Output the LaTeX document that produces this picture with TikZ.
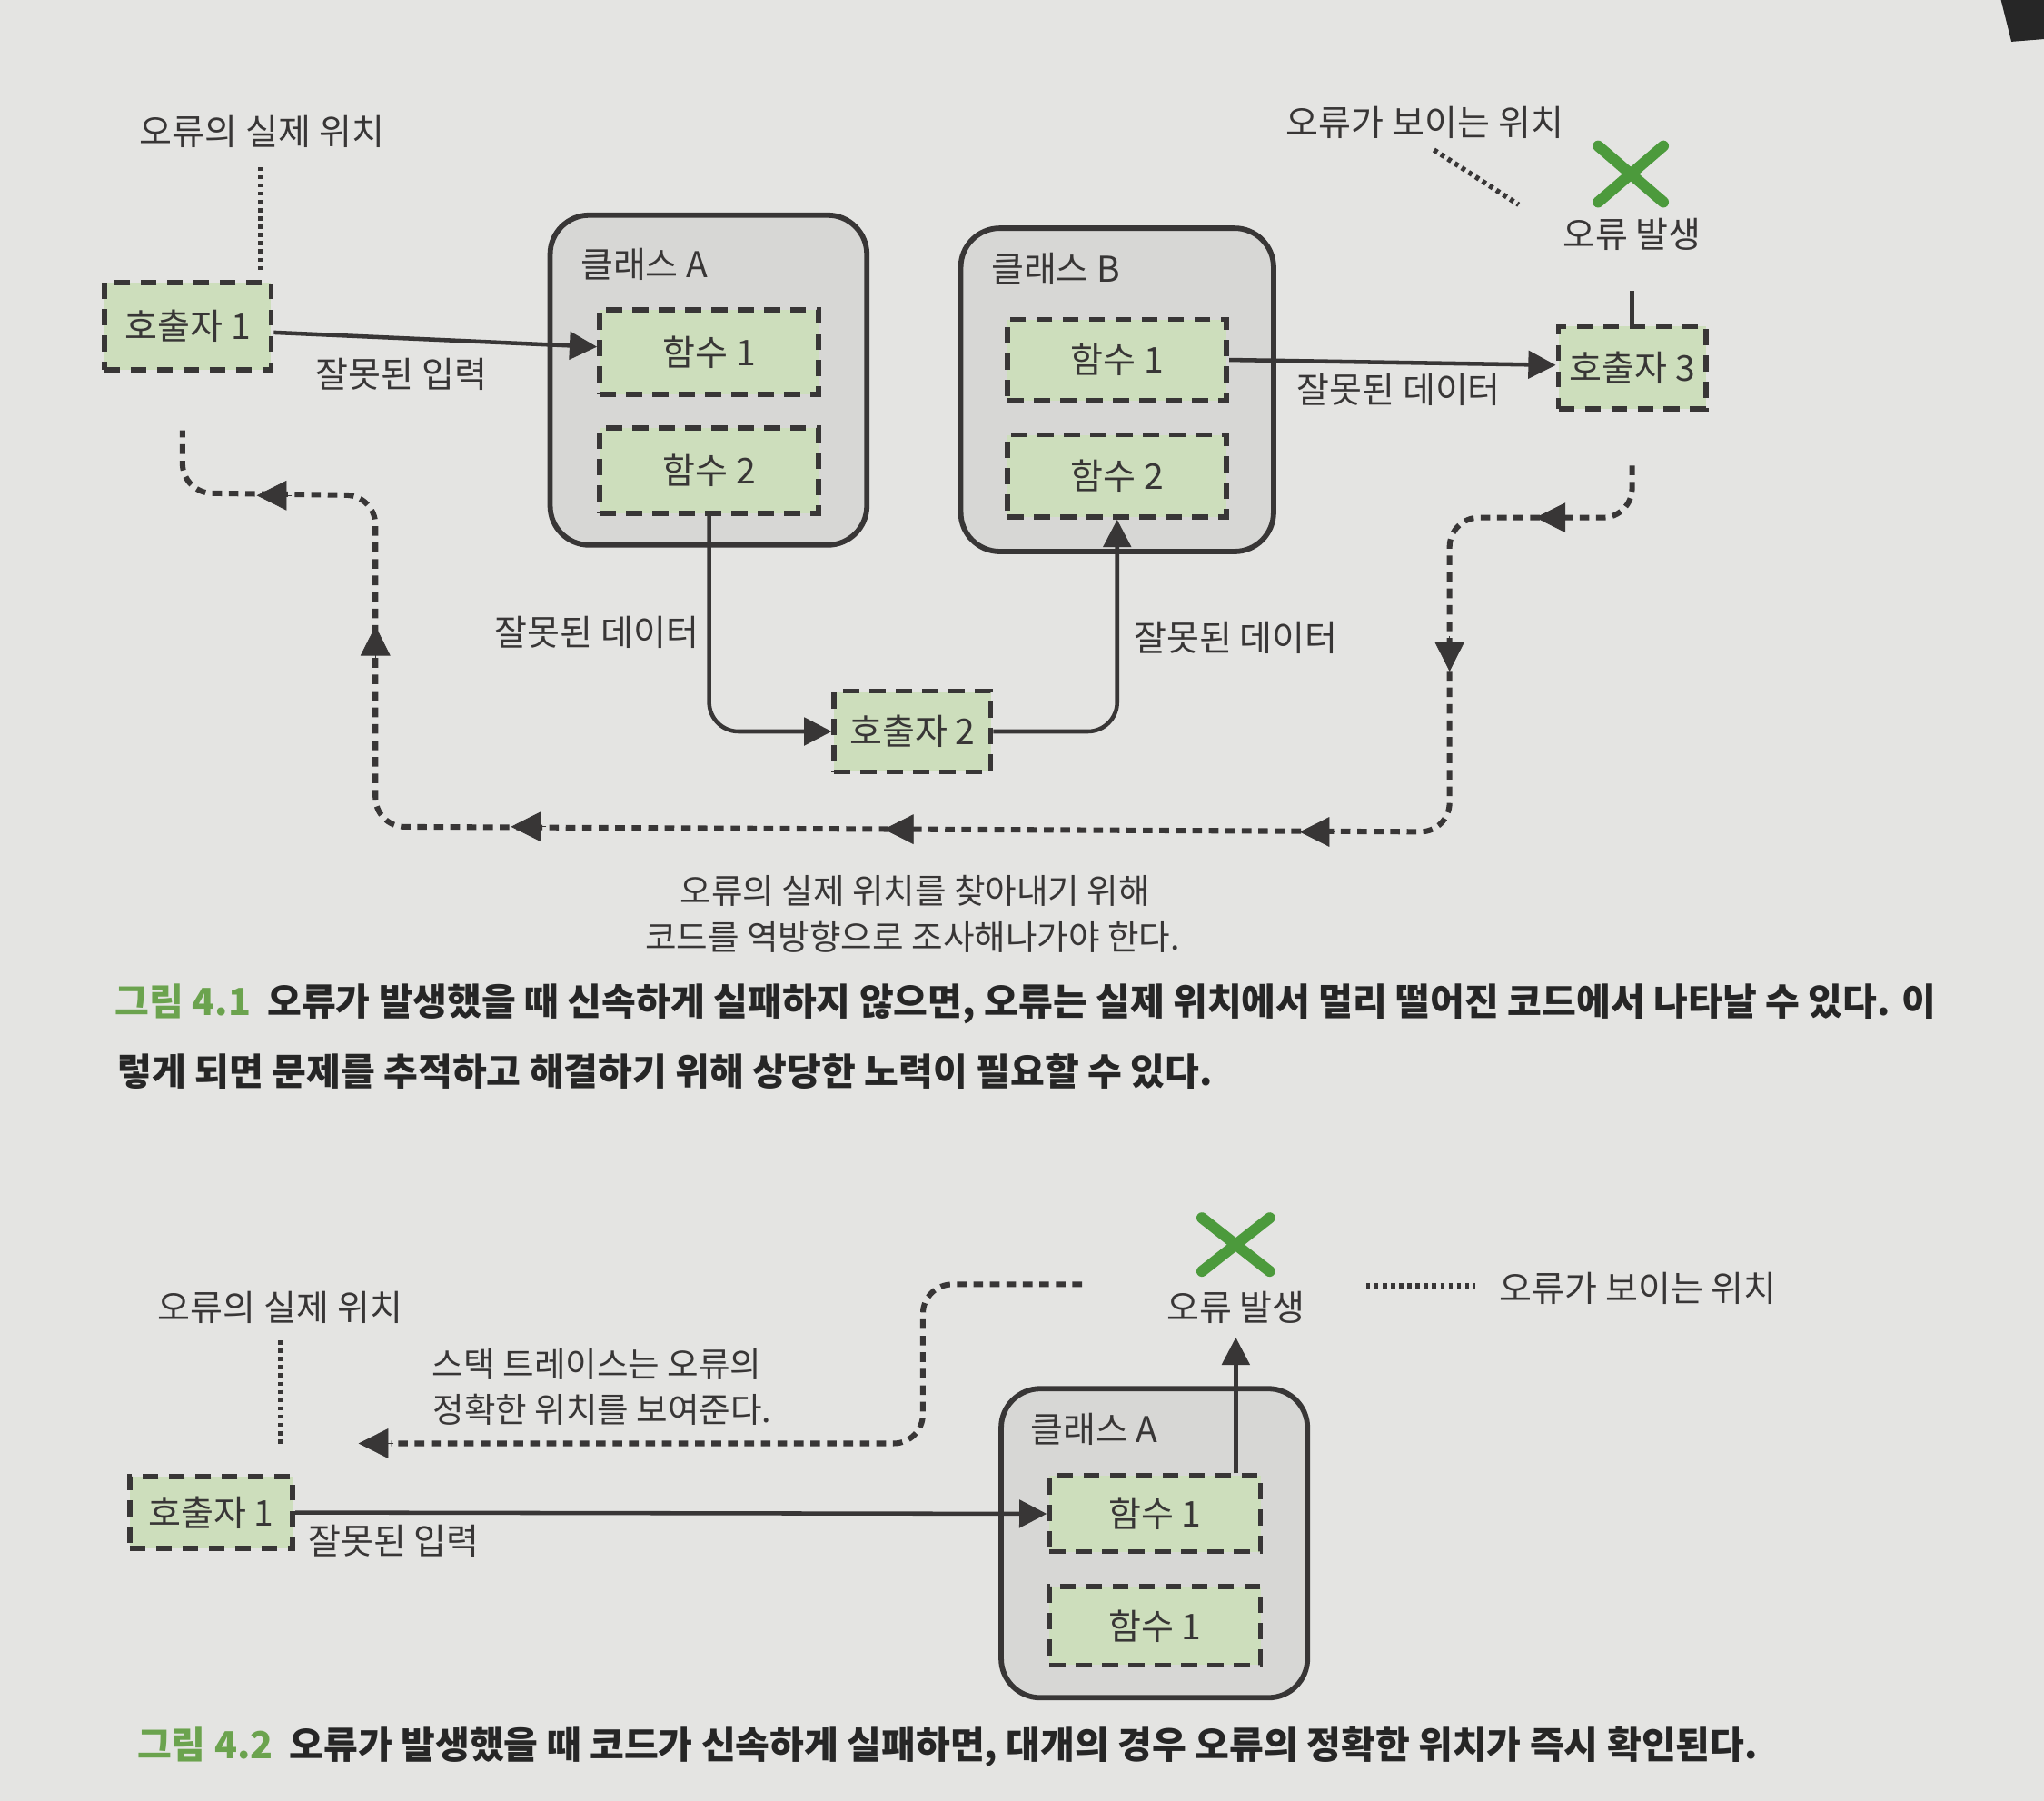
\documentclass[tikz,border=0pt]{standalone}
\usepackage{fontspec}
\setmainfont{Noto Sans CJK KR}
\usetikzlibrary{arrows.meta}
\definecolor{paper}{HTML}{E4E4E2}
\definecolor{ink}{HTML}{383636}
\definecolor{boxgreen}{HTML}{CDDEBC}
\definecolor{classgray}{HTML}{D7D7D5}
\definecolor{xgreen}{HTML}{4C9A3C}
\definecolor{capgreen}{HTML}{6BA34E}
\begin{document}
\begin{tikzpicture}[x=0.02cm,y=-0.02cm,
  lbl/.style={font=\fontsize{15.5}{18}\selectfont, text=ink, inner sep=0pt},
  lblsm/.style={font=\fontsize{14.9}{18}\selectfont, text=ink, inner sep=0pt},
  fbox/.style={draw=ink, fill=boxgreen, line width=2.3pt, dash pattern=on 7pt off 4.5pt,
     font=\fontsize{15.5}{18}\selectfont, text=ink, inner sep=0pt},
  classbox/.style={draw=ink, fill=classgray, line width=2.3pt, rounded corners=0.6cm},
  flow/.style={draw=ink, line width=1.8pt, -{Triangle[length=12pt,width=12pt]}},
  plainline/.style={draw=ink, line width=1.8pt},
  backpath/.style={draw=ink, line width=2.4pt, dash pattern=on 4.2pt off 3pt, rounded corners=0.45cm},
  dotline/.style={draw=ink, line width=2.2pt, dash pattern=on 1.8pt off 1.8pt},
  tiphead/.style={draw=ink, line width=0.3pt, -{Triangle[length=13pt,width=13pt]}},
  xmark/.style={draw=xgreen, line width=4.8pt, line cap=round},
  captxt/.style={font=\bfseries\fontsize{16.3}{19}\selectfont, text=black!85, anchor=west, inner sep=0pt}
]
\fill[paper] (0,0) rectangle (1568,1381);
\fill[black!85] (1535,0) -- (1568,0) -- (1568,30) -- (1543,32) -- cycle;

% ================= Figure 4.1 =================
\node[lbl] (act1) at (201,101) {오류의 실제 위치};
\node[lbl] (vis1) at (1093,94) {오류가 보이는 위치};

\draw[classbox] (422,165) rectangle (665,418);
\node[lbl, anchor=west] (clA) at (445,203) {클래스 A};
\draw[classbox] (737,175) rectangle (977,423);
\node[lbl, anchor=west] (clB) at (760,206) {클래스 B};

\node[fbox, minimum width=2.56cm, minimum height=1.34cm] (call1) at (144,250) {호출자 1};
\node[fbox, minimum width=3.36cm, minimum height=1.30cm] (fA1) at (544,270) {함수 1};
\node[fbox, minimum width=3.36cm, minimum height=1.30cm] (fA2) at (544,361) {함수 2};
\node[fbox, minimum width=3.36cm, minimum height=1.24cm] (fB1) at (857,276) {함수 1};
\node[fbox, minimum width=3.36cm, minimum height=1.26cm] (fB2) at (857,365) {함수 2};
\node[fbox, minimum width=2.26cm, minimum height=1.26cm] (call3) at (1252,282) {호출자 3};
\node[fbox, minimum width=2.40cm, minimum height=1.24cm] (call2) at (700,561) {호출자 2};

\node[lbl] (err1) at (1252,180) {오류 발생};
\draw[xmark] (1226,112) -- (1276,155);
\draw[xmark] (1226,155) -- (1276,112);

\coordinate (a1top) at (200,128);
\draw[dotline] (a1top) -- (a1top |- 0,210);
\coordinate (d1) at (1100,115);
\coordinate (d2) at (1165,157);
\draw[dotline] (d1) -- (d2);

\draw[flow] ([yshift=-0.1cm]call1.east) -- ([yshift=0.08cm]fA1.west);
\node[lbl] at (308,287) {잘못된 입력};
\draw[flow] (fB1.east) -- ([yshift=0.04cm]call3.west);
\node[lbl] at (1073,299) {잘못된 데이터};
\draw[plainline] (call3.north) -- ([yshift=-0.6cm]err1.south);

\draw[flow, rounded corners=0.45cm] (fA2.south) |- (call2.west);
\node[lbl] at (458,485) {잘못된 데이터};
\draw[flow, rounded corners=0.45cm] (call2.east) -| (fB2.south);
\node[lbl] at (948,489) {잘못된 데이터};

\coordinate (r0) at (1252,357);
\coordinate (r7) at (140,330);
\draw[backpath] (r0) -- (1252,397) -- (1112,397) -- (1112,638) -- (288,634) -- (288,380) -- (140,378) -- (r7);
\draw[tiphead] (1205,397) -- (1178,397);
\draw[tiphead] (1112,488) -- (1112,515);
\draw[tiphead] (1024,638) -- (997,638);
\draw[tiphead] (705,636) -- (678,636);
\draw[tiphead] (419,634) -- (392,634);
\draw[tiphead] (288,507) -- (288,480);
\draw[tiphead] (224,380) -- (197,380);

\node[lblsm] at (702,683) {오류의 실제 위치를 찾아내기 위해};
\node[lblsm] at (700,719) {코드를 역방향으로 조사해나가야 한다.};

\node[captxt] (cap1a) at (88,770) {{\color{capgreen}그림 4.1}\hspace{0.25cm}오류가 발생했을 때 신속하게 실패하지 않으면, 오류는 실제 위치에서 멀리 떨어진 코드에서 나타날 수 있다. 이};
\node[captxt] (cap1b) at (90,822) {렇게 되면 문제를 추적하고 해결하기 위해 상당한 노력이 필요할 수 있다.};

% ================= Figure 4.2 =================
\node[lbl] (act2) at (215,1003) {오류의 실제 위치};
\draw[classbox] (768,1065) rectangle (1003,1302);
\node[lbl, anchor=west] (clA2) at (790,1096) {클래스 A};

\node[fbox, minimum width=2.50cm, minimum height=1.10cm] (c1b) at (162,1160) {호출자 1};
\node[fbox, minimum width=3.24cm, minimum height=1.16cm] (gA1) at (886,1161) {함수 1};
\node[fbox, minimum width=3.24cm, minimum height=1.20cm] (gA2) at (886,1247) {함수 1};

\node[lbl] (err2) at (948,1003) {오류 발생};
\draw[xmark] (922,934) -- (974,975);
\draw[xmark] (922,975) -- (974,934);
\node[lbl, anchor=west] (vis2) at (1150,988) {오류가 보이는 위치};
\coordinate (v2a) at (1048,986);
\draw[dotline, shorten >=0.36cm] (v2a) -- (v2a -| vis2.west);

\coordinate (a2top) at (215,1028);
\draw[dotline] (a2top) -- (a2top |- 0,1110);

\draw[flow] (c1b.east) -- (gA1.west);
\node[lbl] at (302,1182) {잘못된 입력};
\draw[flow] (gA1.north -| err2) -- ([yshift=-0.2cm]err2.south);

\coordinate (s0) at (830,985);
\coordinate (s1) at (275,1107);
\draw[backpath] (s0) -- (708,985) -- (708,1107) -- (300,1107);
\draw[tiphead] (302,1107) -- (s1);
\node[lblsm] at (458,1046) {스택 트레이스는 오류의};
\node[lblsm] at (462,1081) {정확한 위치를 보여준다.};

\node[captxt] (cap2) at (105,1340) {{\color{capgreen}그림 4.2}\hspace{0.25cm}오류가 발생했을 때 코드가 신속하게 실패하면, 대개의 경우 오류의 정확한 위치가 즉시 확인된다.};
\end{tikzpicture}
\end{document}
